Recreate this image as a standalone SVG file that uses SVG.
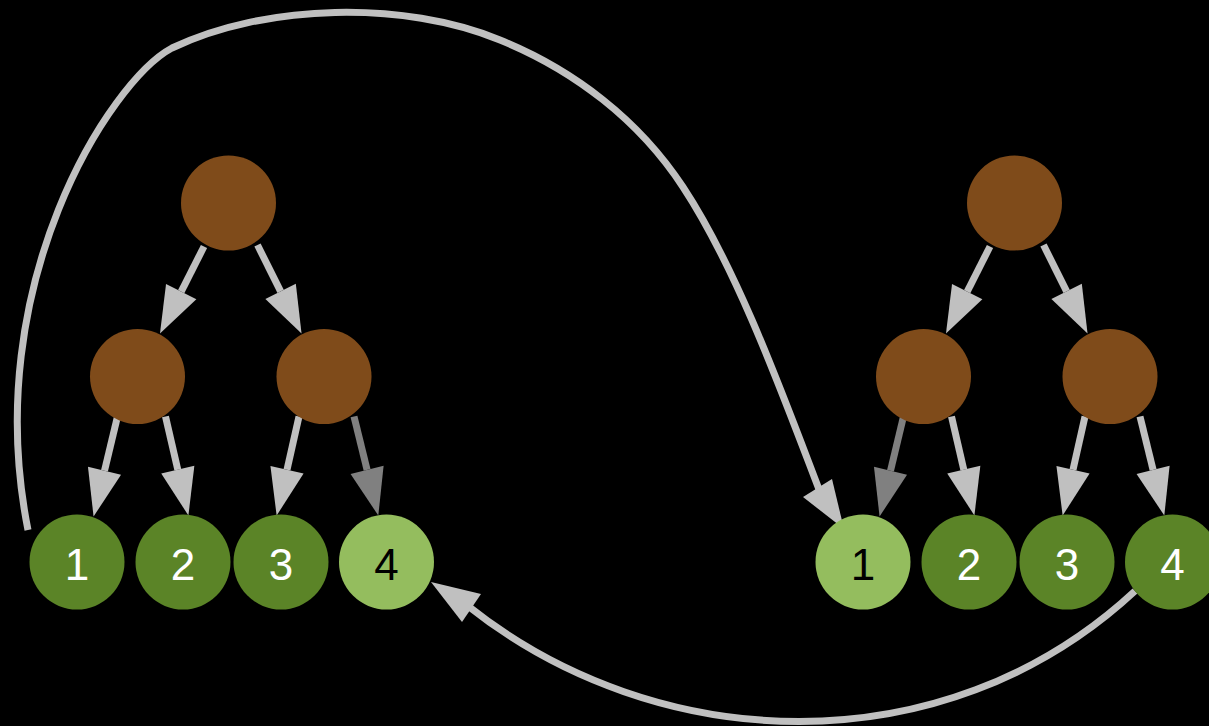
<svg xmlns="http://www.w3.org/2000/svg" width="1209" height="726" viewBox="0 0 1209 726">
<style>
.bg{fill:#000}
.brown{fill:#7f4b1a}
.dark{fill:#5b8427}
.light{fill:#94bd5e}
.e{stroke:#c0c0c0;stroke-width:7;fill:none;marker-end:url(#ah)}
.g{stroke:#808080;stroke-width:7;fill:none;marker-end:url(#ahg)}
.c{stroke:#c0c0c0;stroke-width:7;fill:none}
.head{fill:#c0c0c0}
text{font-family:"Liberation Sans",Arial,sans-serif;font-size:44px;text-anchor:middle}
.wt{fill:#fff}
.bt{fill:#000}
</style>
<defs>
<marker id="ah" markerUnits="userSpaceOnUse" markerWidth="50" markerHeight="40" refX="0" refY="17" orient="auto" overflow="visible" viewBox="0 0 50 40">
<path d="M0,0 L47,17 L0,34 z" fill="#c0c0c0"/>
</marker>
<marker id="ahg" markerUnits="userSpaceOnUse" markerWidth="50" markerHeight="40" refX="0" refY="17" orient="auto" overflow="visible" viewBox="0 0 50 40">
<path d="M0,0 L47,17 L0,34 z" fill="#808080"/>
</marker>
</defs>
<rect class="bg" x="0" y="0" width="1209" height="726"/>
<g id="connectors">
<line class="e" x1="204" y1="246.5" x2="181.2" y2="291.6"/>
<line class="e" x1="257.5" y1="245" x2="280.6" y2="291.4"/>
<line class="e" x1="117.5" y1="416.5" x2="104.5" y2="470.8"/>
<line class="e" x1="165.5" y1="416.5" x2="177.8" y2="469.7"/>
<line class="e" x1="299" y1="416.5" x2="287" y2="469.7"/>
<line class="g" x1="354" y1="416.5" x2="367.1" y2="469.9"/>
<line class="e" x1="990" y1="246.5" x2="967.2" y2="291.6"/>
<line class="e" x1="1043.5" y1="245" x2="1066.6" y2="291.4"/>
<line class="g" x1="903.5" y1="416.5" x2="890.5" y2="470.8"/>
<line class="e" x1="951.5" y1="416.5" x2="963.8" y2="469.7"/>
<line class="e" x1="1085" y1="416.5" x2="1073" y2="469.7"/>
<line class="e" x1="1140" y1="416.5" x2="1153.1" y2="469.9"/>
<path class="c" d="M28,530 C-21,285 110.4,80.9 172,48 C265.6,3.3 404,0.5 500,40 C574,70 639,120 683,187 C738,270.5 784,398 820,492"/>
<polygon class="head" points="803,497 832,479 844,529"/>
<path class="c" d="M1135,591 C942,770 655,755 468,606"/>
<polygon class="head" points="481,594 462,622 431,582"/>
</g>
<g id="L_root"><circle class="brown" cx="228.5" cy="203" r="47.5"/></g>
<g id="L_left"><circle class="brown" cx="137.5" cy="376.5" r="47.5"/></g>
<g id="L_right"><circle class="brown" cx="324" cy="376.5" r="47.5"/></g>
<g id="L_1"><circle class="dark" cx="77" cy="562" r="47.5"/><text class="wt" x="77" y="580">1</text></g>
<g id="L_2"><circle class="dark" cx="183" cy="562" r="47.5"/><text class="wt" x="183" y="580">2</text></g>
<g id="L_3"><circle class="dark" cx="281" cy="562" r="47.5"/><text class="wt" x="281" y="580">3</text></g>
<g id="L_4"><circle class="light" cx="386.5" cy="562" r="47.5"/><text class="bt" x="386.5" y="580">4</text></g>
<g id="R_root"><circle class="brown" cx="1014.5" cy="203" r="47.5"/></g>
<g id="R_left"><circle class="brown" cx="923.5" cy="376.5" r="47.5"/></g>
<g id="R_right"><circle class="brown" cx="1110" cy="376.5" r="47.5"/></g>
<g id="R_1"><circle class="light" cx="863" cy="562" r="47.5"/><text class="bt" x="863" y="580">1</text></g>
<g id="R_2"><circle class="dark" cx="969" cy="562" r="47.5"/><text class="wt" x="969" y="580">2</text></g>
<g id="R_3"><circle class="dark" cx="1067" cy="562" r="47.5"/><text class="wt" x="1067" y="580">3</text></g>
<g id="R_4"><circle class="dark" cx="1172.5" cy="562" r="47.5"/><text class="wt" x="1172.5" y="580">4</text></g>
</svg>
